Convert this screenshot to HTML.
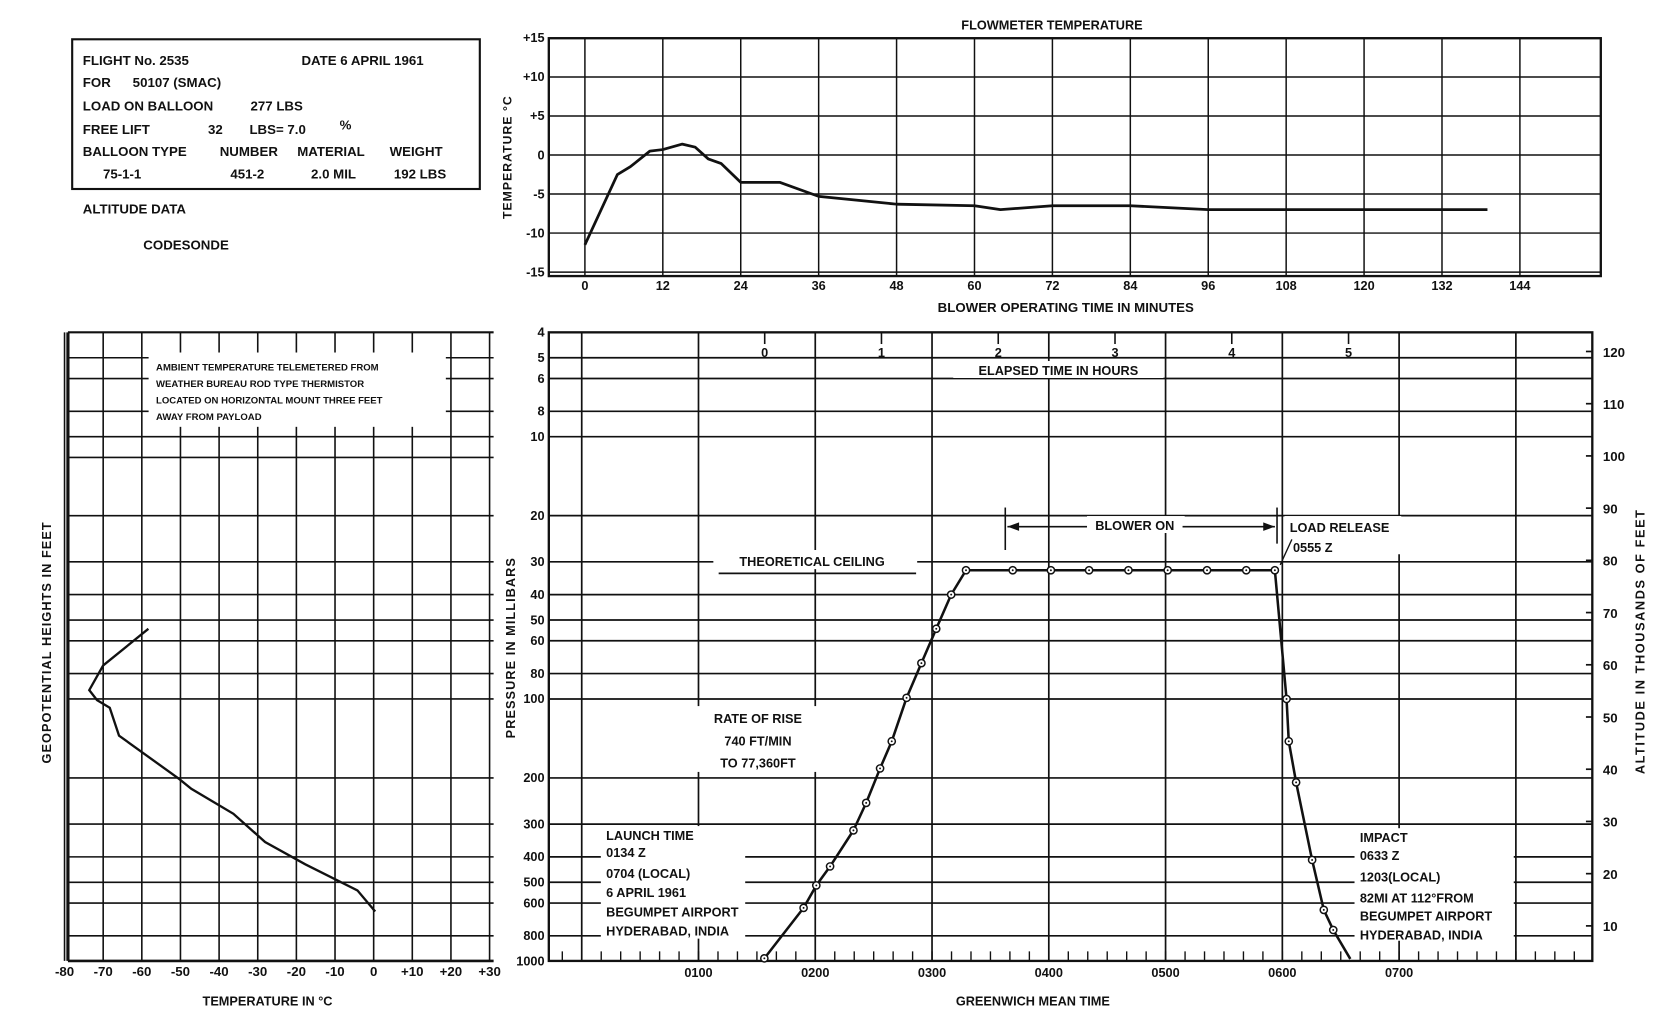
<!DOCTYPE html>
<html><head><meta charset="utf-8"><style>
html,body{margin:0;padding:0;background:#fff;}
svg{display:block;}
text{font-family:"Liberation Sans",sans-serif;font-weight:bold;fill:#111;}
</style></head><body>
<svg id="fig" width="1656" height="1031" viewBox="0 0 1560 971" preserveAspectRatio="none" xmlns="http://www.w3.org/2000/svg">
<rect x="0" y="0" width="1560" height="971" fill="#fff"/>
<g font-size="12.5">
<rect x="68" y="37" width="384" height="141" fill="none" stroke="#111" stroke-width="2"/>
<text x="78" y="61">FLIGHT No. 2535</text><text x="284" y="61">DATE  6 APRIL 1961</text>
<text x="78" y="82">FOR</text><text x="125" y="82">50107 (SMAC)</text>
<text x="78" y="104">LOAD  ON  BALLOON</text><text x="236" y="104">277 LBS</text>
<text x="78" y="126">FREE  LIFT</text><text x="196" y="126">32</text><text x="235" y="126">LBS= 7.0</text><text x="320" y="122">%</text>
<text x="78" y="147">BALLOON  TYPE</text><text x="207" y="147">NUMBER</text><text x="280" y="147">MATERIAL</text><text x="367" y="147">WEIGHT</text>
<text x="97" y="168">75-1-1</text><text x="217" y="168">451-2</text><text x="293" y="168">2.0 MIL</text><text x="371" y="168">192  LBS</text>
</g>
<text x="78" y="201" font-size="12.5">ALTITUDE  DATA</text>
<text x="135" y="235" font-size="12.5">CODESONDE</text>
<g id="topChart"></g>
<g id="leftChart"></g>
<g id="rightChart"></g>
</svg>
<script>
// ---- Flowmeter temperature data ----
const flowMinutes=[0,5,7,10,12,15,17,19,21,24,30,36,42,48,60,64,72,84,96,108,120,139];
const flowTemps=[-11.5,-2.5,-1.5,0.5,0.7,1.4,1,-0.5,-1.1,-3.5,-3.5,-5.3,-5.8,-6.3,-6.5,-7,-6.5,-6.5,-7,-7,-7,-7];
const flowXTicks=[0,12,24,36,48,60,72,84,96,108,120,132,144];
const flowYTicks=[15,10,5,0,-5,-10,-15];
const flowYLabels=['+15','+10','+5','0','-5','-10','-15'];
// ---- Ambient temperature profile ----
const ambTemps=[-58.3,-70,-73.6,-71.6,-68.3,-65.9,-50.3,-47.2,-36.3,-28.1,-17.7,-4.2,0.4];
const ambPressure=[54,74.5,92.5,101,108,138,202,220,274,351,427,537,646];
const ambXTicks=[-80,-70,-60,-50,-40,-30,-20,-10,0,10,20,30];
const ambXLabels=['-80','-70','-60','-50','-40','-30','-20','-10','0','+10','+20','+30'];
const ambGridP=[5,6,8,10,12,20,30,40,50,60,80,100,200,300,400,500,600,800];
// ---- Flight trajectory ----
const flightHours=[1.564,1.9,2.009,2.127,2.327,2.436,2.555,2.655,2.782,2.909,3.036,3.164,3.291,3.691,4.018,4.345,4.682,5.018,5.355,5.691,5.936,6.036,6.055,6.118,6.255,6.355,6.436,6.582];
const flightPressure=[975,626,514,435,317,249,184,145,99,73,54,40,32.3,32.3,32.3,32.3,32.3,32.3,32.3,32.3,32.3,100,145,208,411,637,760,980];
const pressTicks=[4,5,6,8,10,20,30,40,50,60,80,100,200,300,400,500,600,800,1000];
const gmtHours=[1,2,3,4,5,6,7];
const gmtLabels=['0100','0200','0300','0400','0500','0600','0700'];
const elapsedHours=[0,1,2,3,4,5];
const launchHour=1.567;
const altTicks=[120,110,100,90,80,70,60,50,40,30,20,10];

const NS='http://www.w3.org/2000/svg';
function mk(parent,tag,attrs){const e=document.createElementNS(NS,tag);for(const k in attrs)e.setAttribute(k,attrs[k]);parent.appendChild(e);return e;}
function line(p,x1,y1,x2,y2,w){return mk(p,'line',{x1:x1,y1:y1,x2:x2,y2:y2,stroke:'#111','stroke-width':w||1.4});}
function txt(p,x,y,s,size,anchor){const t=mk(p,'text',{x:x,y:y,'font-size':size||12,'text-anchor':anchor||'start'});t.textContent=s;return t;}

// ===== Top chart =====
const gTop=document.getElementById('topChart');
const xTop=m=>551+m*73.4/12, yTop=t=>146-t*7.35;
flowYTicks.forEach((v,i)=>{const l=line(gTop,517,yTop(v),1508,yTop(v),1.4);


const t=txt(gTop,513,yTop(v)+4,flowYLabels[i],12,'end');

});
flowXTicks.forEach(v=>{const l=line(gTop,xTop(v),36,xTop(v),260,1.4);


const t=txt(gTop,xTop(v),273,String(v),12,'middle');

});
const tf=mk(gTop,'rect',{x:517,y:36,width:991,height:224,fill:'none',stroke:'#111','stroke-width':2.2});


const fl=mk(gTop,'polyline',{points:flowMinutes.map((m,i)=>xTop(m)+','+yTop(flowTemps[i])).join(' '),fill:'none',stroke:'#111','stroke-width':2.6,'stroke-linejoin':'round'});


let t1=txt(gTop,991,28,'FLOWMETER  TEMPERATURE',12,'middle');


t1=txt(gTop,1004,294,'BLOWER  OPERATING  TIME  IN  MINUTES',12.5,'middle');


t1=txt(gTop,0,0,'TEMPERATURE °C',11.5,'middle');t1.setAttribute('transform','translate(482,148) rotate(-90)');t1.setAttribute('letter-spacing','1');



// ===== Shared pressure scale =====
const yP=p=>313+247*Math.log10(p/4);

// ===== Left chart =====
const gLeft=document.getElementById('leftChart');
const xT=t=>352+t*3.64;
ambGridP.forEach(p=>{const l=line(gLeft,64,yP(p),465,yP(p),1.5);

});
ambXTicks.forEach((v,i)=>{const l=line(gLeft,xT(v),313,xT(v),905,1.5);


const t=txt(gLeft,xT(v),919,ambXLabels[i],12.5,'middle');

});
line(gLeft,64,313,64,905,3);line(gLeft,64,313,465,313,2);line(gLeft,64,905,465,905,2.5);
const nb=mk(gLeft,'rect',{x:140,y:332,width:280,height:70,fill:'#fff'});


['AMBIENT TEMPERATURE TELEMETERED  FROM','WEATHER BUREAU  ROD TYPE THERMISTOR','LOCATED  ON  HORIZONTAL  MOUNT  THREE FEET','AWAY  FROM  PAYLOAD'].forEach((s,i)=>{const t=txt(gLeft,147,349+i*15.5,s,9);

});
const al=mk(gLeft,'polyline',{points:ambTemps.map((t,i)=>xT(t)+','+yP(ambPressure[i])).join(' '),fill:'none',stroke:'#111','stroke-width':2.2});


t1=txt(gLeft,252,947,'TEMPERATURE IN °C',12,'middle');


t1=txt(gLeft,0,0,'GEOPOTENTIAL  HEIGHTS  IN  FEET',12,'middle');t1.setAttribute('transform','translate(48,605) rotate(-90)');t1.setAttribute('letter-spacing','1');



// ===== Right chart =====
const gRight=document.getElementById('rightChart');
const xH=h=>548+110*h;
const yAlt=a=>872-(a-10)*4.918;
pressTicks.forEach(p=>{if(p>4&&p<1000){const l=line(gRight,517,yP(p),1500,yP(p),1.6);

}
const t=txt(gRight,513,yP(p)+4,String(p),12,'end');

});
[0,1,2,3,4,5,6,7,8].forEach(h=>{const l=line(gRight,xH(h),313,xH(h),905,1.6);

});
gmtHours.forEach((h,i)=>{const t=txt(gRight,xH(h),920,gmtLabels[i],12,'middle');

});
for(let k=0;k<=60;k++){const x=xH(0)+k*110/6-18.3;if(x>520&&x<1498){const l=line(gRight,x,905,x,896,1.3);

}}
elapsedHours.forEach(e=>{const x=xH(launchHour+e);const l=line(gRight,x,313,x,324,1.5);


const t=txt(gRight,x,336,String(e),12,'middle');

});
altTicks.forEach(a=>{const l=line(gRight,1494,yAlt(a),1500,yAlt(a),1.6);


const t=txt(gRight,1510,yAlt(a)+5,String(a),12.5);

});
const rf=mk(gRight,'rect',{x:517,y:313,width:983,height:592,fill:'none',stroke:'#111','stroke-width':2.2});


function bg(x,y,w,h,name){const r=mk(gRight,'rect',{x:x,y:y,width:w,height:h,fill:'#fff'});}
bg(898,340,198,16,'elapsed-label-bg');
bg(672,518,192,18,'ceiling-label-bg');
bg(657,665,115,62,'rate-label-bg');
bg(566,778,136,106,'launch-label-bg');
bg(1276,780,150,106,'impact-label-bg');
bg(1024,486,92,16,'blower-label-bg');
bg(1210,486,110,36,'load-release-bg');
t1=txt(gRight,997,353,'ELAPSED  TIME  IN  HOURS',12,'middle');


t1=txt(gRight,765,533,'THEORETICAL  CEILING',12,'middle');


const cl=line(gRight,677,540,863,540,1.6);


['RATE OF RISE','740 FT/MIN','TO 77,360FT'].forEach((s,i)=>{const t=txt(gRight,714,681+i*21,s,12,'middle');

});
['LAUNCH TIME','0134 Z','0704 (LOCAL)','6 APRIL 1961','BEGUMPET AIRPORT','HYDERABAD, INDIA'].forEach((s,i)=>{const t=txt(gRight,571,[791,807,827,845,863,881][i],s,12);

});
['IMPACT','0633 Z','1203(LOCAL)','82MI AT 112°FROM','BEGUMPET AIRPORT','HYDERABAD, INDIA'].forEach((s,i)=>{const t=txt(gRight,1281,[793,810,830,850,867,885][i],s,12);

});
let b=line(gRight,947,478,947,518,1.5);


b=line(gRight,1203,478,1203,512,1.5);


b=line(gRight,949,496,1024,496,1.5);


b=line(gRight,1114,496,1201,496,1.5);


b=mk(gRight,'path',{d:'M949 496 L960 492 L960 500 Z M1201 496 L1190 492 L1190 500 Z',fill:'#111'});


t1=txt(gRight,1069,499,'BLOWER ON',12,'middle');


t1=txt(gRight,1215,501,'LOAD RELEASE',12);


t1=txt(gRight,1218,520,'0555 Z',12);


b=line(gRight,1217,508,1206,532,1.3);


const tr=mk(gRight,'polyline',{points:flightHours.map((h,i)=>xH(h)+','+yP(flightPressure[i])).join(' '),fill:'none',stroke:'#111','stroke-width':2.4,'stroke-linejoin':'round'});


flightHours.forEach((h,i)=>{if(i===flightHours.length-1)return;
const c=mk(gRight,'circle',{cx:xH(h),cy:yP(flightPressure[i]),r:3.4,fill:'#fff',stroke:'#111','stroke-width':1.4});


const d=mk(gRight,'circle',{cx:xH(h),cy:yP(flightPressure[i]),r:0.9,fill:'#111'});

});
t1=txt(gRight,973,947,'GREENWICH  MEAN  TIME',12,'middle');


t1=txt(gRight,0,0,'PRESSURE  IN  MILLIBARS',12,'middle');t1.setAttribute('transform','translate(485,610) rotate(-90)');t1.setAttribute('letter-spacing','1');


t1=txt(gRight,0,0,'ALTITUDE  IN  THOUSANDS  OF  FEET',12,'middle');t1.setAttribute('transform','translate(1549,604) rotate(-90)');t1.setAttribute('letter-spacing','1.5');


</script>
</body></html>
